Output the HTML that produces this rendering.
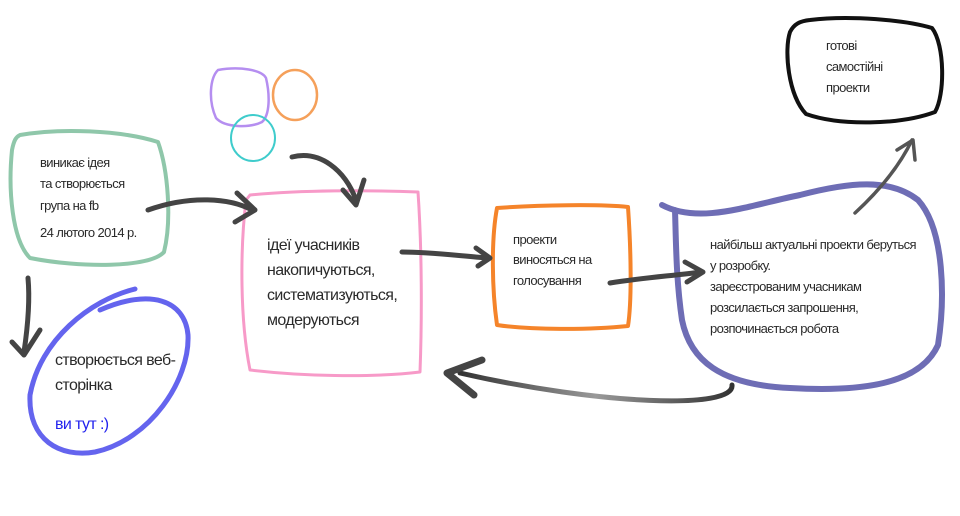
<!DOCTYPE html>
<html><head><meta charset="utf-8"><style>
html,body{margin:0;padding:0;background:#fff;}
svg{display:block;}
text{font-family:"Liberation Sans",sans-serif;fill:#2a2a2a;letter-spacing:-0.6px;}
</style></head><body>
<svg width="960" height="516" viewBox="0 0 960 516" xmlns="http://www.w3.org/2000/svg">
<defs>
<linearGradient id="g1" x1="0" x2="1"><stop offset="0" stop-color="#333"/><stop offset="0.5" stop-color="#999"/><stop offset="1" stop-color="#333"/></linearGradient>
</defs>
<g fill="none" stroke-linecap="round" stroke-linejoin="round">
<path d="M218 70 C240 66 262 70 266 78 C270 95 270 115 262 122 C250 128 225 128 216 118 C208 100 210 78 218 70Z" stroke="#b58ef0" stroke-width="2.5"/>
<ellipse cx="295" cy="95" rx="22" ry="25" stroke="#f5a05a" stroke-width="2.5"/>
<ellipse cx="253" cy="138" rx="22" ry="23" stroke="#3fcccc" stroke-width="2"/>
<path d="M20 135 C60 128 120 130 158 142 C168 170 172 220 164 252 C150 268 80 268 30 258 C12 240 8 190 12 150 C14 140 16 137 20 135Z" stroke="#8fc7aa" stroke-width="4"/>
<path d="M250 195 C300 190 370 190 418 192 C422 250 422 320 420 372 C370 378 300 376 250 370 C240 320 240 250 246 200Z" stroke="#f79ac8" stroke-width="3"/>
<path d="M497 208 C540 205 600 204 628 207 C631 250 632 300 628 326 C590 330 530 330 497 325 C492 290 491 240 497 208Z" stroke="#f5842a" stroke-width="4"/>
<path d="M662 205 C700 225 750 205 800 195 C850 182 890 178 918 200 C945 230 945 300 938 345 C920 385 860 392 790 388 C720 385 690 360 682 320 C676 280 676 240 675 210" stroke="#6e6db5" stroke-width="6"/>
<path d="M135 289 C90 300 40 340 30 395 C28 440 60 458 95 452 C150 440 190 380 188 335 C185 300 150 288 100 310" stroke="#6464ee" stroke-width="5"/>
<path d="M810 20 C850 15 905 20 932 28 C945 45 945 95 935 112 C900 125 840 126 806 114 C788 95 784 50 790 32 C794 24 800 21 810 20Z" stroke="#111" stroke-width="4"/>
<g stroke="#444" stroke-width="5">
<path d="M148 210 C190 195 230 198 252 210"/><path d="M237 193 L255 210 L235 222"/>
<path d="M292 157 C320 150 345 170 356 200"/><path d="M343 190 L356 205 L364 180"/>
<path d="M28 278 C30 300 28 325 24 352"/><path d="M12 342 L24 355 L40 330"/>
<path d="M402 252 C430 252 460 256 488 258"/><path d="M476 248 L490 258 L478 266"/>
<path d="M610 283 C640 278 670 276 702 272"/><path d="M685 262 L703 272 L687 282"/>
<path d="M855 213 C880 190 900 165 912 140" stroke="#555" stroke-width="3.5"/><path d="M897 150 L913 140 L915 160" stroke="#555" stroke-width="3.5"/>
<path d="M732 385 C735 410 600 405 460 373" stroke="url(#g1)" stroke-width="5"/>
<path d="M482 360 L447 373 L474 395" stroke-width="7"/>
</g>
</g>
<text font-size="13"><tspan x="40" y="167">виникає ідея</tspan><tspan x="40" y="188">та створюється</tspan><tspan x="40" y="210">група на fb</tspan><tspan x="40" y="237">24 лютого 2014 р.</tspan></text>
<text font-size="16"><tspan x="267" y="250">ідеї учасників</tspan><tspan x="267" y="275">накопичуються,</tspan><tspan x="267" y="300">систематизуються,</tspan><tspan x="267" y="325">модеруються</tspan></text>
<text font-size="13"><tspan x="513" y="244">проекти</tspan><tspan x="513" y="264">виносяться на</tspan><tspan x="513" y="285">голосування</tspan></text>
<text font-size="13"><tspan x="710" y="249">найбільш актуальні проекти беруться</tspan><tspan x="710" y="270">у розробку.</tspan><tspan x="710" y="291">зареєстрованим учасникам</tspan><tspan x="710" y="312">розсилається запрошення,</tspan><tspan x="710" y="333">розпочинається робота</tspan></text>
<text font-size="16"><tspan x="55" y="365">створюється веб-</tspan><tspan x="55" y="390">сторінка</tspan></text>
<text font-size="16" style="fill:#2222ee"><tspan x="55" y="429">ви тут :)</tspan></text>
<text font-size="13"><tspan x="826" y="50">готові</tspan><tspan x="826" y="71">самостійні</tspan><tspan x="826" y="92">проекти</tspan></text>
</svg>
</body></html>
